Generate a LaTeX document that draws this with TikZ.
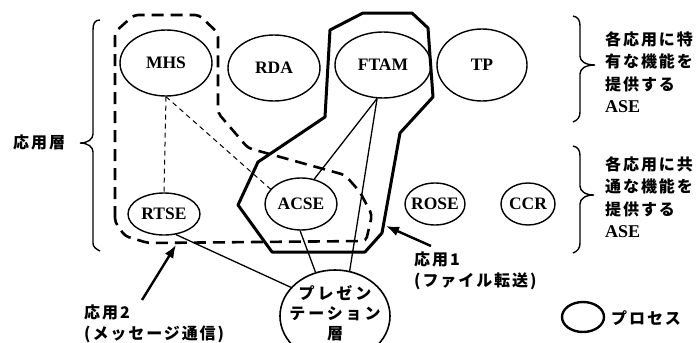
\documentclass[tikz,border=0pt]{standalone}
\usepackage{fontspec}
\setmainfont{Liberation Serif}
\newfontfamily\jp[LetterSpace=12]{Noto Sans CJK JP}
\newfontfamily\jpw[LetterSpace=18]{Noto Sans CJK JP}
\usetikzlibrary{shapes.geometric,arrows.meta}
\begin{document}
\begin{tikzpicture}[x=1pt,y=-1pt,
  proc/.style={ellipse,draw,line width=1.4pt,inner sep=0pt,font=\fontsize{17.5}{20}\selectfont\bfseries},
  link/.style={line width=1.3pt},
  dlink/.style={line width=1pt,dash pattern=on 5pt off 4pt},
  app2/.style={line width=2.6pt,dash pattern=on 12pt off 7pt,rounded corners=4pt},
  app1/.style={line width=3pt,line join=round},
  pointer/.style={line width=2.4pt,-{Latex[length=13pt,width=10pt]}},
  brace/.style={line width=1.4pt},
  jplabel/.style={font=\jp\bfseries\fontsize{16}{21}\selectfont,align=left,inner sep=2pt},
  asetext/.style={font=\jp\bfseries\fontsize{16}{22.5}\selectfont,align=left,inner sep=2pt},
]
\useasboundingbox (0,0) rectangle (697,343);

% application processes (ASE ellipses)
\node[proc,minimum width=92pt,minimum height=66pt] (MHS) at (166,63) {\makebox[0pt]{MHS}};
\node[proc,minimum width=92pt,minimum height=66pt] (RDA) at (274,68) {\makebox[0pt]{RDA}};
\node[proc,minimum width=96pt,minimum height=66pt] (FTAM) at (383,65) {\makebox[0pt]{FTAM}};
\node[proc,minimum width=90pt,minimum height=72pt] (TP) at (482,65) {\makebox[0pt]{TP}};
\node[proc,minimum width=72pt,minimum height=42pt] (RTSE) at (164,214) {\makebox[0pt]{RTSE}};
\node[proc,minimum width=72pt,minimum height=52pt] (ACSE) at (301,204) {\makebox[0pt]{ACSE}};
\node[proc,minimum width=60pt,minimum height=42pt] (ROSE) at (435,204) {\makebox[0pt]{ROSE}};
\node[proc,minimum width=54pt,minimum height=42pt] (CCR) at (528,204) {\makebox[0pt]{CCR}};

% presentation layer
\node[ellipse,draw,line width=1.6pt,inner sep=0pt,minimum width=110pt,minimum height=92pt] (pres) at (335,316) {};
\node[font=\jpw\bfseries\fontsize{16}{20}\selectfont,align=center,inner sep=0pt] (presT) at (335,313) {プレゼン\\テーション\\層};

% application 2 (dashed boundary)
\draw[app2] (115,222) -- (115,32) -- (134,15) -- (199,15) -- (218,33) -- (218,113)
  -- (248,148) -- (345,175) -- (360,192) -- (372,215) -- (366,241) -- (148,243) -- (125,236) -- cycle;

% application 1 (solid boundary)
\draw[app1] (258,162) -- (325,117) -- (330,30) -- (363,13) -- (412,13) -- (428,28)
  -- (433,97) -- (400,133) -- (382,233) -- (365,252) -- (272,252) -- (238,205) -- cycle;

% connectors
\draw[dlink] (MHS.south) -- (RTSE.north);
\draw[dlink] (MHS.south) -- (ACSE.154);
\draw[link] (FTAM.260) -- (ACSE.62);
\draw[link] (FTAM.260) -- (pres.72);
\draw[link] (ACSE.-92) -- (pres.114);
\draw[link] (RTSE.-60) -- (pres.147);

% braces
\draw[brace] (100,20) .. controls (95,20) and (93,23) .. (93,30) -- (93,134)
  .. controls (93,139) and (88,143) .. (80,143) .. controls (88,143) and (93,147) .. (93,152)
  -- (93,243) .. controls (93,247) and (96,249) .. (100,251);
\draw[brace] (573,16) .. controls (578,17) and (580,20) .. (580,26) -- (580,56)
  .. controls (580,61) and (585,65) .. (595,65) .. controls (585,65) and (580,69) .. (580,74)
  -- (580,112) .. controls (580,117) and (578,120) .. (573,122);
\draw[brace] (573,146) .. controls (578,147) and (580,150) .. (580,156) -- (580,186)
  .. controls (580,191) and (585,195) .. (594,195) .. controls (585,195) and (580,199) .. (580,204)
  -- (580,243) .. controls (580,248) and (578,251) .. (573,253);

% side labels
\node[jplabel,anchor=west] (layer) at (11,142) {応用層};
\node[asetext,anchor=west] (top) at (603,72) {各応用に特\\有な機能を\\提供する\\{\rmfamily\bfseries\fontsize{18}{22.5}\selectfont ASE}};
\node[asetext,anchor=west] (bottom) at (603,197) {各応用に共\\通な機能を\\提供する\\{\rmfamily\bfseries\fontsize{18}{22.5}\selectfont ASE}};

% application labels and pointers
\node[jplabel,anchor=west] (lab2) at (82,324) {応用2\\(メッセージ通信)};
\coordinate (a2start) at (142,300);
\coordinate (a2tip) at (176,245);
\draw[pointer] (a2start) -- (a2tip);
\node[jplabel,anchor=west] (lab1) at (412,271) {応用1\\(ファイル転送)};
\coordinate (a1start) at (431,246);
\coordinate (a1tip) at (386,226);
\draw[pointer] (a1start) -- (a1tip);

% legend
\node[ellipse,draw,line width=2.4pt,inner sep=0pt,minimum width=42pt,minimum height=30pt] (leg) at (583,317) {};
\node[jplabel,anchor=west] (legT) at (609,318) {プロセス};
\end{tikzpicture}
\end{document}
